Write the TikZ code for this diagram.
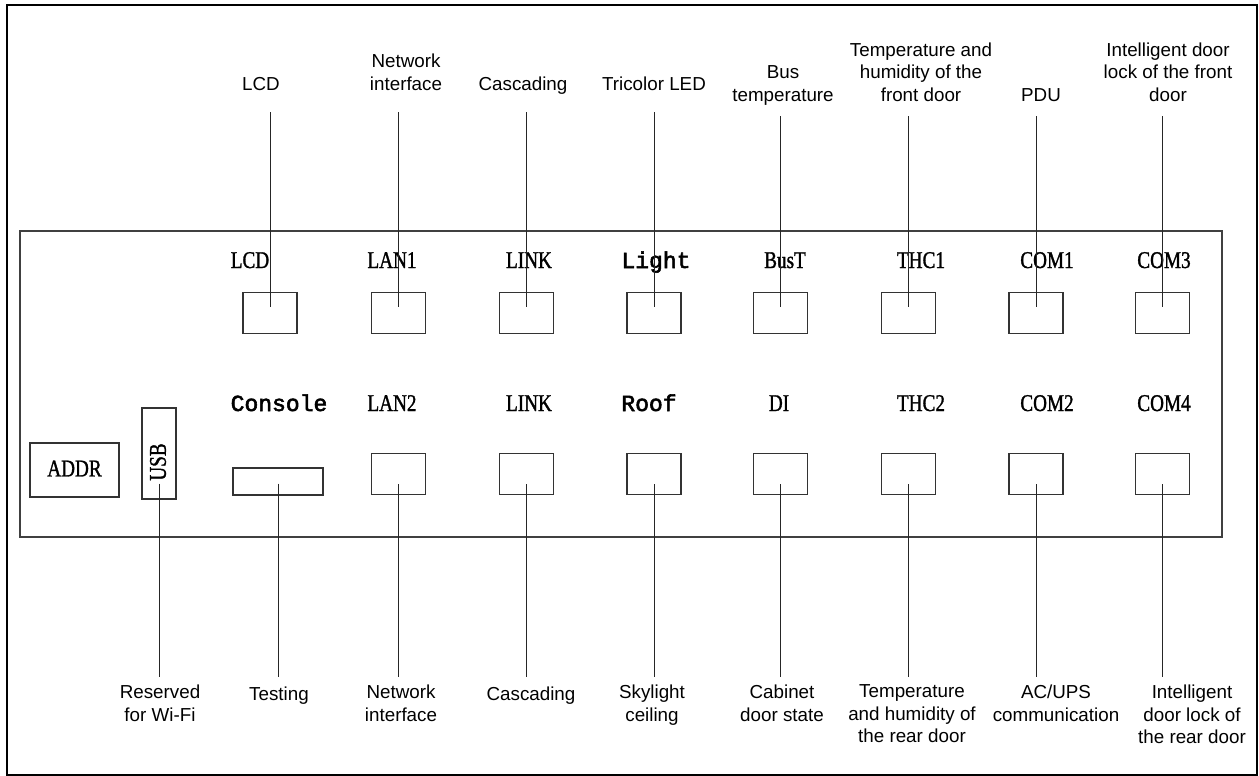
\documentclass[tikz,border=0pt]{standalone}
\usepackage{fontspec}
\setmainfont{Liberation Serif}
\setsansfont{Liberation Sans}
\setmonofont{Liberation Mono}
\newfontfamily\silkserif[FakeStretch=0.8, FakeBold=1.2]{Liberation Serif}
\newfontfamily\silkmonofont[FakeBold=2.5]{Liberation Mono}

\begin{document}
\begin{tikzpicture}[x=1pt,y=-1pt,
  port/.style={draw=black!80, line width=1.2pt, minimum width=54pt, minimum height=41pt, inner sep=0pt},
  silk/.style={font=\silkserif\fontsize{24}{26}\selectfont, inner sep=0pt, anchor=base},
  silkmono/.style={font=\silkmonofont\fontsize{23}{25}\selectfont, inner sep=0pt, anchor=base},
  callout/.style={font=\sffamily\fontsize{18.8}{22.5}\selectfont, align=center, inner sep=0pt},
  toplbl/.style={callout, anchor=south, outer ysep=#1, execute at end node=\strut},
  botlbl/.style={callout, anchor=north, outer ysep=8pt, execute at begin node=\strut},
  lead/.style={draw=black!85, line width=0.9pt}]
\useasboundingbox (0,0) rectangle (1259,776);
\draw[line width=2.5pt] (7,5) rectangle (1257,775);
% front panel
\draw[draw=black!75, line width=1.2pt] (20,231) rectangle (1222,537);
% upper row of ports
\node[port] (pLCD)  at (270,313) {};
\node[port] (pLAN1) at (398.5,313) {};
\node[port] (pLNKa) at (526.5,313) {};
\node[port] (pLgt)  at (654,313) {};
\node[port] (pBusT) at (780.5,313) {};
\node[port] (pTHC1) at (908.5,313) {};
\node[port] (pCOM1) at (1036,313) {};
\node[port] (pCOM3) at (1162.5,313) {};
\node[silk] (sLCD)  at (250,268) {LCD};
\node[silk] (sLAN1) at (392,268) {LAN1};
\node[silk] (sLNKa) at (529,268) {LINK};
\node[silkmono] (sLgt) at (656,268) {Light};
\node[silk] (sBusT) at (785,268) {BusT};
\node[silk] (sTHC1) at (921,268) {THC1};
\node[silk] (sCOM1) at (1047,268) {COM1};
\node[silk] (sCOM3) at (1164,268) {COM3};
% lower row of ports
\node[draw=black!80, line width=1.2pt, minimum width=89pt, minimum height=54pt, inner sep=0pt] (addr) at (74.5,470) {};
\node[silk, anchor=center] (sADDR) at (74.5,468.5) {ADDR};
\node[draw=black!80, line width=1.2pt, minimum width=34pt, minimum height=91pt, inner sep=0pt] (pUSB) at (159,453.5) {};
\node[silk, anchor=center, rotate=90] (sUSB) at (158,462) {USB};
\node[port, minimum width=90pt, minimum height=27pt] (pCon) at (278,481.5) {};
\node[port] (pLAN2) at (398.5,474) {};
\node[port] (pLNKb) at (526.5,474) {};
\node[port] (pRoof) at (654,474) {};
\node[port] (pDI)   at (780.5,474) {};
\node[port] (pTHC2) at (908.5,474) {};
\node[port] (pCOM2) at (1036,474) {};
\node[port] (pCOM4) at (1162.5,474) {};
\node[silkmono] (sCon) at (279,411) {Console};
\node[silk] (sLAN2) at (392,411) {LAN2};
\node[silk] (sLNKb) at (529,411) {LINK};
\node[silkmono] (sRoof) at (649,411) {Roof};
\node[silk] (sDI)   at (779,411) {DI};
\node[silk] (sTHC2) at (921,411) {THC2};
\node[silk] (sCOM2) at (1047,411) {COM2};
\node[silk] (sCOM4) at (1164,411) {COM4};
% callouts above
\node[toplbl=15pt] (tLCD)  at (261,112) {LCD};
\node[toplbl=15pt] (tLAN1) at (406,112) {Network\\interface};
\node[toplbl=15pt] (tLNKa) at (523,112) {Cascading};
\node[toplbl=15pt] (tLgt)  at (654,112) {Tricolor LED};
\node[toplbl=8pt] (tBusT) at (783,116) {Bus\\temperature};
\node[toplbl=8pt] (tTHC1) at (921,116) {Temperature and\\humidity of the\\front door};
\node[toplbl=8pt] (tCOM1) at (1041,116) {PDU};
\node[toplbl=8pt] (tCOM3) at (1168,116) {Intelligent door\\lock of the front\\door};
\draw[lead] (tLCD.south -| pLCD.center) -- ([yshift=6pt]pLCD.center);
\draw[lead] (tLAN1.south -| pLAN1.center) -- ([yshift=6pt]pLAN1.center);
\draw[lead] (tLNKa.south -| pLNKa.center) -- ([yshift=6pt]pLNKa.center);
\draw[lead] (tLgt.south -| pLgt.center) -- ([yshift=6pt]pLgt.center);
\draw[lead] (tBusT.south -| pBusT.center) -- ([yshift=6pt]pBusT.center);
\draw[lead] (tTHC1.south -| pTHC1.center) -- ([yshift=6pt]pTHC1.center);
\draw[lead] (tCOM1.south -| pCOM1.center) -- ([yshift=6pt]pCOM1.center);
\draw[lead] (tCOM3.south -| pCOM3.center) -- ([yshift=6pt]pCOM3.center);
% callouts below
\node[botlbl] (bUSB)  at (160,677) {Reserved\\for Wi-Fi};
\node[botlbl] (bCon)  at (279,677) {Testing};
\node[botlbl] (bLAN2) at (401,677) {Network\\interface};
\node[botlbl] (bLNKb) at (531,677) {Cascading};
\node[botlbl] (bRoof) at (652,677) {Skylight\\ceiling};
\node[botlbl] (bDI)   at (782,677) {Cabinet\\door state};
\node[botlbl] (bTHC2) at (912,677) {Temperature\\and humidity of\\the rear door};
\node[botlbl] (bCOM2) at (1056,677) {AC/UPS\\communication};
\node[botlbl] (bCOM4) at (1192,677) {Intelligent\\door lock of\\the rear door};
\draw[lead] ([yshift=-30pt]pUSB.center) -- (pUSB.center |- bUSB.north);
\draw[lead] ([yshift=-2pt]pCon.center) -- (pCon.center |- bCon.north);
\draw[lead] ([yshift=-10pt]pLAN2.center) -- (pLAN2.center |- bLAN2.north);
\draw[lead] ([yshift=-10pt]pLNKb.center) -- (pLNKb.center |- bLNKb.north);
\draw[lead] ([yshift=-10pt]pRoof.center) -- (pRoof.center |- bRoof.north);
\draw[lead] ([yshift=-10pt]pDI.center) -- (pDI.center |- bDI.north);
\draw[lead] ([yshift=-10pt]pTHC2.center) -- (pTHC2.center |- bTHC2.north);
\draw[lead] ([yshift=-10pt]pCOM2.center) -- (pCOM2.center |- bCOM2.north);
\draw[lead] ([yshift=-10pt]pCOM4.center) -- (pCOM4.center |- bCOM4.north);
\end{tikzpicture}
\end{document}
